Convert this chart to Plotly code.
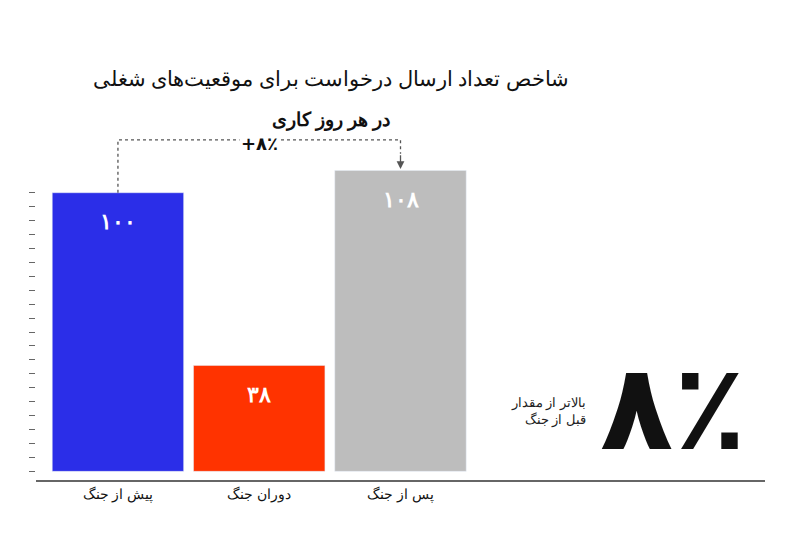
import plotly.graph_objects as go

categories = ["پیش از جنگ", "دوران جنگ", "پس از جنگ"]
values = [100, 38, 108]
colors = ["#2b2ee8", "#ff3300", "#bdbdbd"]
change_pct = 8

fa = str.maketrans("0123456789", "۰۱۲۳۴۵۶۷۸۹")
labels = [str(v).translate(fa) for v in values]
xs = list(range(len(categories)))

fig = go.Figure()
fig.add_trace(go.Bar(x=xs, y=values, marker_color=colors, width=0.93, hoverinfo="skip"))

# value labels inside the bars, near the top
for x, v, lab in zip(xs, values, labels):
    fig.add_annotation(x=x, y=v - 10, text=f"<b>{lab}</b>", showarrow=False,
                       font=dict(size=22, color="white", family="Lato"))

top = max(values) + 11
# dashed connector from first to last bar
fig.add_shape(type="path", path=f"M 0 {values[0]} L 0 {top} L 2 {top} L 2 {values[2] + 6}",
              line=dict(color="#555", width=1.3, dash="dot"))
fig.add_annotation(x=2, y=values[2] + 0.5, ax=2, ay=values[2] + 6, xref="x", yref="y",
                   axref="x", ayref="y", text="", showarrow=True, arrowhead=2,
                   arrowsize=1.2, arrowwidth=1.3, arrowcolor="#555")
fig.add_annotation(x=1, y=top - 1.5, text=f"<b>+{str(change_pct).translate(fa)}٪</b>", showarrow=False,
                   bgcolor="white", font=dict(size=18, color="#111", family="DejaVu Sans"))

# big callout
fig.add_annotation(x=3.93, y=23, text=f"<b>{str(change_pct).translate(fa)}٪</b>", showarrow=False,
                   font=dict(size=120, color="#111", family="DejaVu Sans"))
fig.add_annotation(x=3.33, y=22, text="بالاتر از مقدار<br>قبل از جنگ", showarrow=False,
                   xanchor="right", align="right",
                   font=dict(size=13, color="#222", family="Noto Sans"))

# title lines
fig.add_annotation(xref="paper", yref="paper", x=0.405, y=1.0, yshift=75,
                   text="شاخص تعداد ارسال درخواست برای موقعیت‌های شغلی", showarrow=False,
                   font=dict(size=21, color="#111", family="Noto Sans"))
fig.add_annotation(xref="paper", yref="paper", x=0.405, y=1.0, yshift=33,
                   text="<b>در هر روز کاری</b>", showarrow=False,
                   font=dict(size=19, color="#111", family="Noto Sans"))

fig.update_layout(
    width=800, height=547, plot_bgcolor="white", paper_bgcolor="white",
    margin=dict(l=28, r=43, t=129, b=75), showlegend=False,
    xaxis=dict(range=[-0.58, 4.58], tickvals=xs, ticktext=categories, showgrid=False,
               zeroline=False, showline=True, linecolor="#666", linewidth=2,
               tickfont=dict(size=14, color="#111", family="Noto Sans"), ticks=""),
    yaxis=dict(range=[-3.1, 120], showgrid=False, zeroline=False, showticklabels=False,
               ticks="outside", tickvals=list(range(0, 101, 5)), ticklen=6,
               tickcolor="#666", tickwidth=1),
)
fig.write_html("out.html")
